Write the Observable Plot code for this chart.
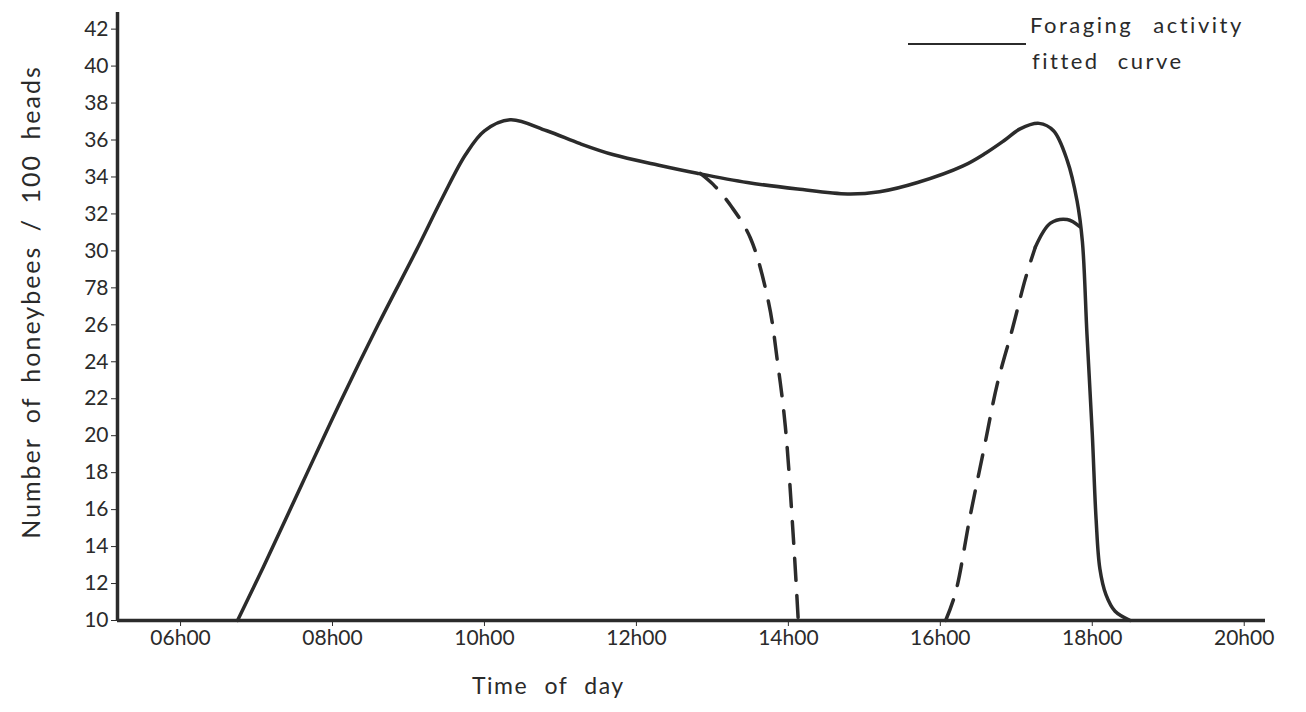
<!DOCTYPE html>
<html>
<head>
<meta charset="utf-8">
<script src="https://cdn.jsdelivr.net/npm/d3@7"></script>
<script src="https://cdn.jsdelivr.net/npm/@observablehq/plot@0.6"></script>
<style>
  html, body { margin: 0; padding: 0; background: #fff; }
  #wrap { position: relative; width: 1306px; height: 712px; font-family: Lato, "DejaVu Sans", sans-serif; color: #2a2a2a; }
  .lbl { position: absolute; white-space: nowrap; color: #2a2a2a; }
</style>
</head>
<body>
<div id="wrap"></div>
<script>
// ---- data (hour of day, honeybees / 100 heads) ----
const solidHours  = [6.75, 7.09, 7.6, 8.1, 8.6, 9.1, 9.45, 9.75, 10.0, 10.34, 10.82, 11.26, 11.7, 12.28, 12.8, 13.46, 14.12, 14.78, 15.2, 15.7, 16.3, 16.6, 16.85, 17.05, 17.3, 17.49, 17.67, 17.8, 17.87, 17.93, 18.0, 18.05, 18.1, 18.18, 18.3, 18.5];
const solidValues = [10.0, 12.9, 17.4, 21.8, 26.0, 30.0, 32.9, 35.2, 36.5, 37.1, 36.5, 35.8, 35.2, 34.65, 34.2, 33.7, 33.35, 33.08, 33.2, 33.7, 34.6, 35.3, 36.0, 36.6, 36.9, 36.5, 34.9, 32.7, 30.5, 25.5, 20.1, 15.5, 12.8, 11.4, 10.5, 10.0];

const dropHours  = [12.84, 13.01, 13.25, 13.5, 13.74, 13.86, 13.96, 14.07, 14.13];
const dropValues = [34.2, 33.6, 32.4, 30.7, 27.2, 23.9, 20.5, 14.2, 10.0];

const riseHours  = [16.07, 16.2, 16.39, 16.57, 16.75, 16.95, 17.12, 17.25];
const riseValues = [10.0, 11.5, 15.6, 19.2, 22.8, 25.8, 28.5, 30.2];

const capHours  = [17.25, 17.45, 17.67, 17.84];
const capValues = [30.2, 31.5, 31.7, 31.3];

const yTicks = [10, 12, 14, 16, 18, 20, 22, 24, 26, 28, 30, 32, 34, 36, 38, 40, 42];
const yTickLabels = ["10", "12", "14", "16", "18", "20", "22", "24", "26", "78", "30", "32", "34", "36", "38", "40", "42"];
const xTicks = [6, 8, 10, 12, 14, 16, 18, 20];
const xTickLabels = ["06h00", "08h00", "10h00", "12h00", "14h00", "16h00", "18h00", "20h00"];

const toRows = (xs, ys) => xs.map((x, i) => ({x, y: ys[i]}));
const ink = "#2b2b2b";

const chart = Plot.plot({
  width: 1306,
  height: 712,
  marginLeft: 117,
  marginRight: 41,
  marginTop: 12,
  marginBottom: 92,
  style: { fontFamily: "Lato, 'DejaVu Sans', sans-serif", fontSize: "21px", color: ink, background: "#fff" },
  x: { domain: [5.17, 20.28], ticks: xTicks, tickFormat: d => xTickLabels[xTicks.indexOf(d)], tickSize: 6, tickPadding: 4, label: null },
  y: { domain: [10, 42.9], ticks: yTicks, tickFormat: d => yTickLabels[yTicks.indexOf(d)], tickSize: 6, tickPadding: 3, label: null },
  marks: [
    Plot.ruleY([10], { stroke: ink, strokeWidth: 3.5 }),
    Plot.ruleX([5.17], { stroke: ink, strokeWidth: 3.5 }),
    Plot.line(toRows(dropHours, dropValues), { x: "x", y: "y", curve: "catmull-rom", stroke: ink, strokeWidth: 3.5, strokeDasharray: "22,15" }),
    Plot.line(toRows(riseHours, riseValues), { x: "x", y: "y", curve: "catmull-rom", stroke: ink, strokeWidth: 3.5, strokeDasharray: "22,15" }),
    Plot.line(toRows(capHours, capValues), { x: "x", y: "y", curve: "catmull-rom", stroke: ink, strokeWidth: 3.5 }),
    Plot.line(toRows(solidHours, solidValues), { x: "x", y: "y", curve: "catmull-rom", stroke: ink, strokeWidth: 3.5 })
  ]
});

const wrap = document.getElementById("wrap");
wrap.appendChild(chart);

function addLabel(text, css) {
  const d = document.createElement("div");
  d.className = "lbl";
  d.textContent = text;
  Object.assign(d.style, css);
  wrap.appendChild(d);
  return d;
}

// axis titles
addLabel("Time of day", { left: "472px", top: "671px", fontSize: "23px", wordSpacing: "9px", letterSpacing: "1.5px" });
addLabel("Number of honeybees / 100 heads", {
  left: "30px", top: "302px", fontSize: "25px", wordSpacing: "6px", letterSpacing: "2px",
  transform: "translate(-50%, -50%) rotate(-90deg)"
});

// legend
const legLine = document.createElement("div");
Object.assign(legLine.style, { position: "absolute", left: "908px", top: "43px", width: "118px", height: "0", borderTop: "2.5px solid " + ink });
wrap.appendChild(legLine);
addLabel("Foraging activity", { left: "1030px", top: "11px", fontSize: "22px", letterSpacing: "2.5px", wordSpacing: "12px" });
addLabel("fitted curve", { left: "1032px", top: "47px", fontSize: "22px", letterSpacing: "2.5px", wordSpacing: "10px" });
</script>
</body>
</html>
